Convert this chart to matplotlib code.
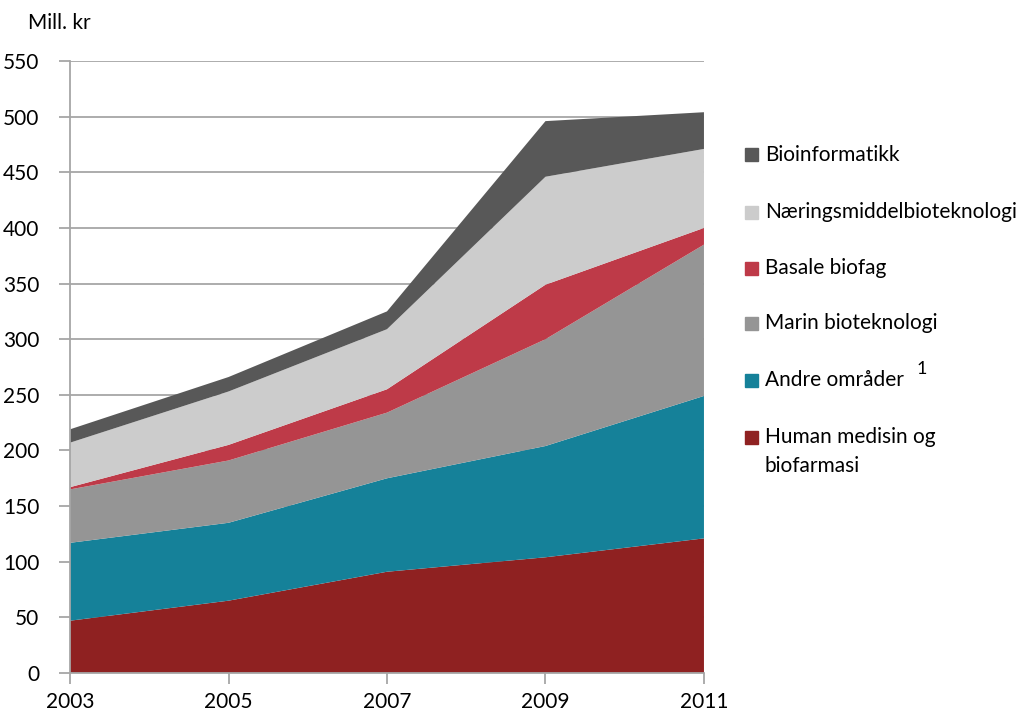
"""Stacked area chart: biotechnology R&D spending by field, 2003-2011 (mill. kr)."""

import matplotlib
matplotlib.use("Agg")
import matplotlib.pyplot as plt
from matplotlib.patches import Rectangle

plt.rcParams["font.family"] = ["Lato", "DejaVu Sans"]

years = [2003, 2005, 2007, 2009, 2011]

# bottom to top, same order as the stack
human_medisin = [47, 65, 91, 104, 121]
andre_omrader = [70, 70, 84, 100, 128]
marin = [48, 56, 59, 96, 136]
basale = [2, 14, 21, 49, 15]
naering = [40, 48, 54, 97, 71]
bioinformatikk = [12, 13, 16, 50, 33]

series = [human_medisin, andre_omrader, marin, basale, naering, bioinformatikk]
labels = ["Human medisin og\nbiofarmasi", "Andre områder", "Marin bioteknologi",
          "Basale biofag", "Næringsmiddelbioteknologi", "Bioinformatikk"]
colors = ["#8f2121", "#158199", "#959595", "#be3a48", "#cccccc", "#585858"]

y_ticks = list(range(0, 551, 50))
x_ticks = years

fig = plt.figure(figsize=(10.36, 7.13), dpi=100)
ax = fig.add_axes([0.0676, 0.0561, 0.6119, 0.8583])

ax.stackplot(years, *series, colors=colors, linewidth=0, zorder=2)

ax.set_xlim(2003, 2011)
ax.set_ylim(0, 550)
ax.set_xticks(x_ticks)
ax.set_yticks(y_ticks)
ax.yaxis.grid(True, color="#a6a6a6", linewidth=1.3, zorder=0)
ax.set_axisbelow(True)

for side in ("top", "right"):
    ax.spines[side].set_visible(False)
for side in ("left", "bottom"):
    ax.spines[side].set_color("#a6a6a6")
    ax.spines[side].set_linewidth(1.3)
ax.tick_params(axis="both", colors="#a6a6a6", width=1.3, length=8, labelsize=15,
               labelcolor="black")
ax.tick_params(axis="y", pad=14)
ax.tick_params(axis="x", pad=6)

fig.text(0.027, 0.968, "Mill. kr", fontsize=15, va="center", ha="left")

# legend, top entry first
legend_y = [0.783, 0.703, 0.624, 0.547, 0.467, 0.387]
for (label, color), y in zip(reversed(list(zip(labels, colors))), legend_y):
    fig.patches.append(Rectangle((745 / 1036, y - 0.0095), 13 / 1036, 13 / 713,
                                 transform=fig.transFigure, color=color))
    fig.text(765 / 1036, y + 0.014, label, fontsize=15, va="top", ha="left",
             linespacing=1.55)
    if label == "Andre områder":
        fig.text(917 / 1036, y + 0.004, "1", fontsize=13, va="bottom", ha="left")

fig.savefig("out.png", dpi=100)
